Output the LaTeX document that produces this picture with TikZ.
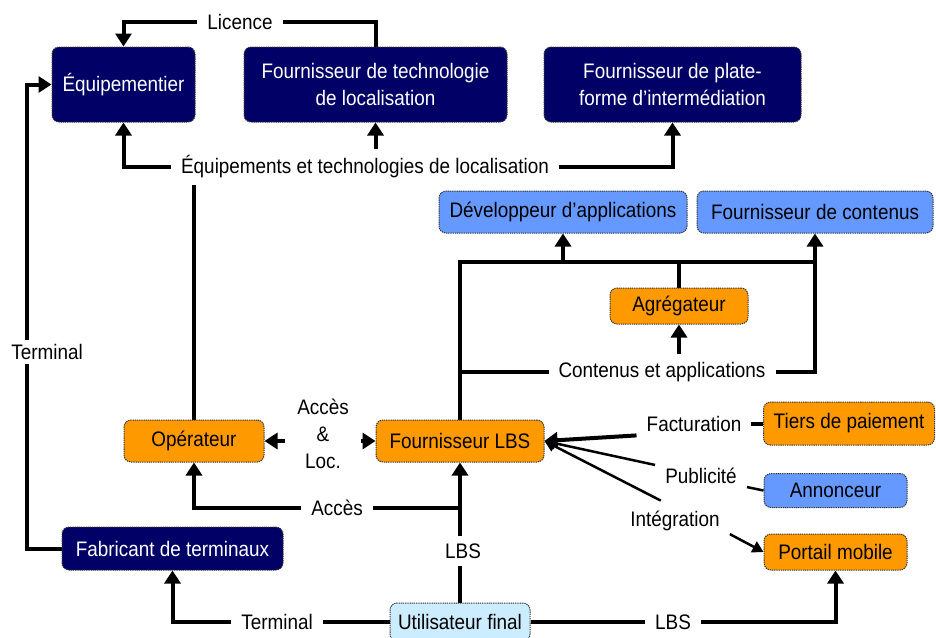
\documentclass[tikz,border=0pt]{standalone}
\usepackage{fontspec}
\setmainfont{Liberation Sans}[FakeStretch=0.9]
\usetikzlibrary{arrows.meta}
\definecolor{navybox}{HTML}{000066}
\definecolor{orangebox}{HTML}{FF9900}
\definecolor{bluebox}{HTML}{6699FF}
\definecolor{palebox}{HTML}{CCECFF}
\newcommand\dfont{\fontsize{21}{27}\selectfont}
\pgfdeclarelayer{wires}
\pgfsetlayers{wires,main}
\begin{document}
\begin{tikzpicture}[x=1pt,y=-1pt,
  box/.style={draw=black!80, line width=1pt, dash pattern=on 1.3pt off 0.9pt,
    rounded corners=7pt, inner sep=0pt, align=center, font=\dfont},
  boxnavy/.style={box, fill=navybox, text=white},
  boxorange/.style={box, fill=orangebox, text=black},
  boxblue/.style={box, fill=bluebox, text=black},
  boxpale/.style={box, fill=palebox, text=black},
  lbl/.style={fill=white, inner xsep=10pt, inner ysep=4pt, align=center, font=\dfont},
  wire/.style={line width=4pt},
  thinwire/.style={line width=2.5pt},
  arr/.style={wire, -{Triangle[width=16pt,length=13pt]}},
  thinarr/.style={thinwire, -{Triangle[width=12pt,length=11pt]}},
  dblarr/.style={wire, {Triangle[width=16pt,length=13pt]}-{Triangle[width=16pt,length=13pt]}},
]
\useasboundingbox (0,0) rectangle (936,637);

% boxes
\node[boxnavy, minimum width=143pt, minimum height=75pt] (equip) at (123.5,84.5) {Équipementier};
\node[boxnavy, minimum width=263pt, minimum height=75pt] (ftl) at (375.5,84.5) {Fournisseur de technologie\\de localisation};
\node[boxnavy, minimum width=257pt, minimum height=75pt] (pf) at (672.5,84.5) {Fournisseur de plate-\\forme d’intermédiation};
\node[boxblue, minimum width=248pt, minimum height=42pt] (dev) at (563,212) {Développeur d’applications};
\node[boxblue, minimum width=236pt, minimum height=42pt] (cont) at (815,212) {Fournisseur de contenus};
\node[boxorange, minimum width=138pt, minimum height=36pt] (agg) at (679,306) {Agrégateur};
\node[boxorange, minimum width=140pt, minimum height=42pt] (op) at (194,441) {Opérateur};
\node[boxorange, minimum width=168pt, minimum height=42pt] (flbs) at (460,441) {Fournisseur LBS};
\node[boxorange, minimum width=171pt, minimum height=43pt] (tiers) at (849,423.5) {Tiers de paiement};
\node[boxblue, minimum width=143pt, minimum height=34pt] (ann) at (835.5,490.5) {Annonceur};
\node[boxorange, minimum width=143pt, minimum height=36pt] (portail) at (835.5,552) {Portail mobile};
\node[boxnavy, minimum width=221pt, minimum height=43pt] (fab) at (172.5,548.5) {Fabricant de terminaux};
\node[boxpale, minimum width=140pt, minimum height=38pt] (user) at (460,622) {Utilisateur final};

% labels
\node[lbl] (lLic) at (240,22) {Licence};
\node[lbl, inner ysep=7pt] (lEq) at (365,167) {Équipements et technologies de localisation};
\node[lbl] (lTermA) at (47,352) {Terminal};
\node[lbl, inner xsep=12pt] (lAL) at (323,434) {Accès\\\&\\Loc.};
\node[lbl] (lAcc) at (337,508) {Accès};
\node[lbl, inner ysep=8pt] (lLbsA) at (463,551) {LBS};
\node[lbl] (lTermB) at (277,622) {Terminal};
\node[lbl] (lLbsB) at (673,622) {LBS};
\node[lbl, inner ysep=8pt] (lCA) at (662,372) {Contenus et applications};
\node[lbl] (lFac) at (694,423.5) {Facturation};
\node[lbl, inner ysep=3pt] (lPub) at (701,476) {Publicité};
\node[lbl, inner ysep=3pt] (lInt) at (675,521) {Intégration};

\coordinate (bus) at (0,262);

\begin{pgfonlayer}{wires}
  % licence and equipment flows
  \draw[arr] (ftl.north) |- (lLic.center) -| (equip.north);
  \draw[arr] (lEq.center) -| (equip.south);
  \draw[arr] (lEq.center) -| (pf.south);
  \draw[arr] (lEq.center -| ftl.south) -- (ftl.south);
  \draw[wire] (lEq.center -| op.north) -- (op.north);
  % terminals
  \draw[arr] (fab.west) -- ++(-35,0) |- (equip.west);
  \draw[arr] (user.west) -| (fab.south);
  % access and location
  \draw[dblarr] (op.east) -- (flbs.west);
  \draw[arr] (flbs.south |- lAcc.center) -| (op.south);
  \draw[arr] (user.north) -- (flbs.south);
  \draw[arr] (user.east) -| (portail.south);
  % contents and applications
  \draw[wire] (flbs.north) -- (flbs.north |- bus) -- (cont.south |- bus);
  \draw[arr] (dev.south |- bus) -- (dev.south);
  \draw[arr] (cont.south |- bus) -- (cont.south);
  \draw[wire] (agg.north) -- (agg.north |- bus);
  \draw[wire] (flbs.north |- lCA.center) -- (lCA.center -| cont.south) -- (cont.south |- bus);
  \draw[arr] (lCA.center -| agg.south) -- (agg.south);
  % billing, advertising, integration
  \draw[wire] (tiers.west) -- (lFac.center);
  \draw[arr] (lFac.south west) -- (flbs.east);
  \draw[thinarr] (lPub.north west) -- (flbs.east);
  \draw[thinwire] (lPub.south east) -- (ann.west);
  \draw[thinarr, shorten <=16pt] (lInt.north) -- (flbs.east);
  \draw[thinarr] (lInt.south east) -- (portail.west);
\end{pgfonlayer}
\end{tikzpicture}
\end{document}
